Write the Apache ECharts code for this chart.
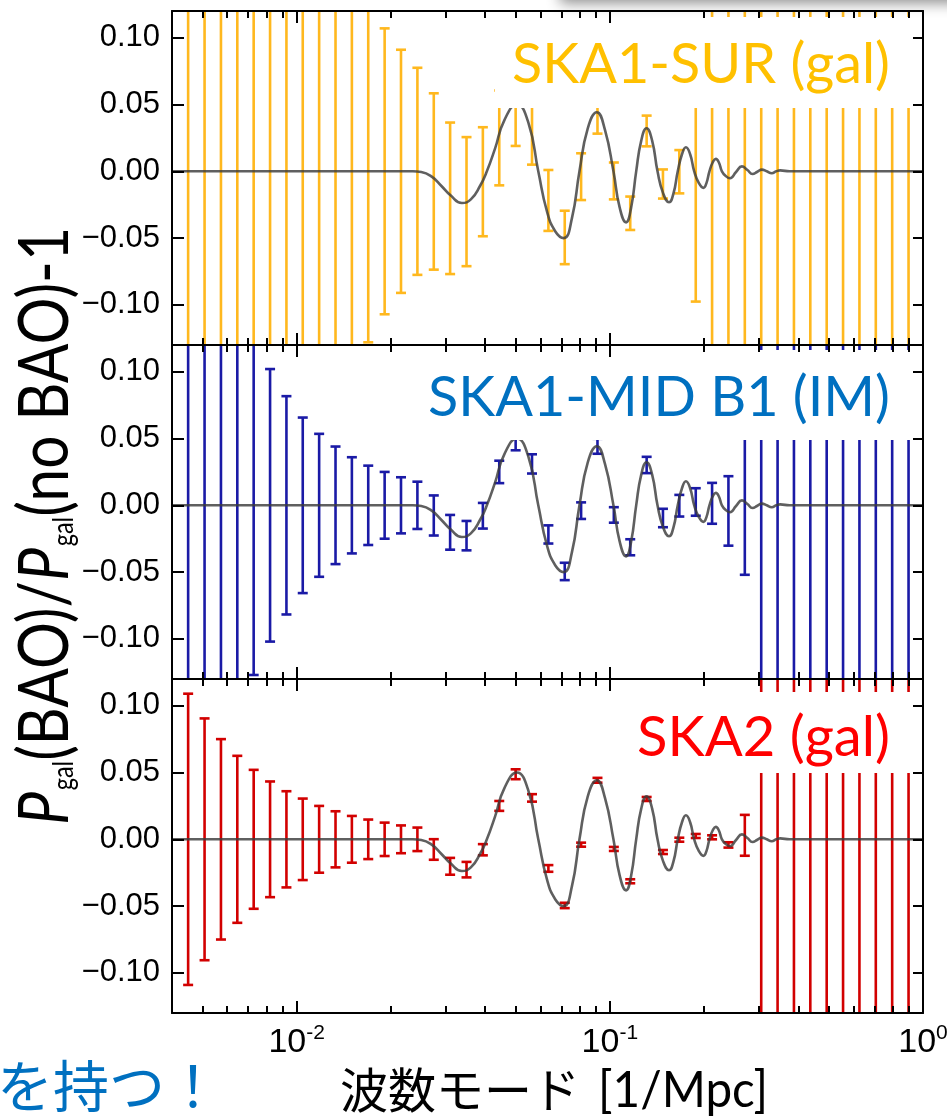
<!DOCTYPE html>
<html><head><meta charset="utf-8">
<script src="https://cdn.jsdelivr.net/npm/echarts@6/dist/echarts.min.js"></script>
<style>html,body{margin:0;padding:0;background:#fff}#c{width:947px;height:1117px}</style>
</head><body><div id="c"></div><script>
// ---------------- data ----------------
const kBins = [0.004504,0.005082,0.005733,0.006465,0.007292,0.008226,0.009278,0.01046,0.01180,0.01331,
  0.01501,0.01693,0.01910,0.02154,0.02430,0.02741,0.03091,0.03487,0.03932,0.04436,
  0.05004,0.05644,0.06366,0.07179,0.08097,0.09133,0.1030,0.1162,0.1311,0.1478,
  0.1667,0.1881,0.2121,0.2392,0.2698,0.3044,0.3433,0.3872,0.4367,0.4926,
  0.5556,0.6267,0.7068,0.7972,0.8992];
const binCenter = [0,0,0,0,0,0,0,0,0,0, 0,0,0,0,0,-0.0076,-0.0202,-0.0227,-0.0078,0.025,
  0.0487,0.031,-0.0218,-0.0495,-0.004,0.0442,-0.0072,-0.0314,0.0302,-0.0095,
  -0.0003,0.0025,0.0015,-0.0042,0.003,0,0,0,0,0, 0,0,0,0,0];
const sigmaSUR = [0.5,0.5,0.5,0.5,0.5,0.5,0.5,0.5,0.5,0.5, 0.5,0.128,0.107,0.091,0.0775,0.066,0.0567,0.0483,0.0408,0.0355,
  0.0297,0.026,0.0228,0.020,0.0175,0.016,0.0138,0.0125,0.0115,0.0109,
  0.0162,0.10,0.5,0.5,0.5,0.5,0.5,0.5,0.5,0.5, 0.5,0.5,0.5,0.5,0.5];
const sigmaMID = [0.5,0.5,0.5,0.5,0.127,0.102,0.0817,0.0657,0.0535,0.044, 0.036,0.0297,0.025,0.021,0.0177,0.015,0.013,0.011,0.0096,0.0084,
  0.0075,0.0072,0.0068,0.0065,0.0062,0.0056,0.0058,0.006,0.0061,0.0069,
  0.0081,0.0103,0.0153,0.026,0.055,0.5,0.5,0.5,0.5,0.5, 0.5,0.5,0.5,0.5,0.5];
const sigmaSKA2 = [0.109,0.0905,0.075,0.0625,0.052,0.0433,0.036,0.0305,0.025,0.021, 0.0175,0.0148,0.0125,0.0104,0.0088,0.0077,0.0063,0.0058,0.0042,0.0037,
  0.0037,0.0028,0.0025,0.002,0.0015,0.0018,0.0015,0.0015,0.0015,0.0015,
  0.0015,0.0015,0.0015,0.002,0.0153,0.5,0.5,0.5,0.5,0.5, 0.5,0.5,0.5,0.5,0.5];
const curveK = [0.004,0.01,0.02,0.0235,0.025,0.027,0.029,0.031,0.0337,0.036,0.0385,0.0405,0.043,0.046,0.0505,0.055,0.0591,
  0.063,0.067,0.0713,0.0757,0.080,0.085,0.0909,0.0965,0.1027,0.1075,0.1127,0.117,0.1214,0.126,0.131,0.1365,0.142,
  0.148,0.1546,0.1597,0.1648,0.170,0.175,0.1805,0.186,0.1925,0.199,0.2035,0.208,0.213,0.218,0.223,0.228,
  0.235,0.242,0.253,0.264,0.275,0.2855,0.296,0.306,0.317,0.329,0.340,0.350,0.375,0.40,1.0];
const curveVal = [0,0,0,0,-0.0005,-0.004,-0.011,-0.018,-0.0237,-0.021,-0.011,0,0.017,0.038,0.050,0.036,0,
  -0.030,-0.045,-0.050,-0.035,0,0.032,0.0442,0.031,0,-0.027,-0.0382,-0.027,0,0.023,0.0322,0.023,0,
  -0.0165,-0.0232,-0.0165,0,0.0128,0.018,0.0128,0,-0.0088,-0.0124,-0.0088,0,0.0066,0.0093,0.0066,0,
  -0.0037,-0.0052,-0.0005,0.0037,0.001,-0.002,-0.0003,0.0013,0,-0.0014,0,0.0007,0,0,0];
const yTickValues = [-0.1,-0.05,0,0.05,0.1];
const xMajorTicks = [0.01,0.1,1];
const xMinorTicks = [0.005,0.006,0.007,0.008,0.009,0.02,0.03,0.04,0.05,0.06,0.07,0.08,0.09,0.2,0.3,0.4,0.5,0.6,0.7,0.8,0.9];
const panelLabels = ['SKA1-SUR (gal)','SKA1-MID B1 (IM)','SKA2 (gal)'];
const panelSigma = [sigmaSUR, sigmaMID, sigmaSKA2];
const xRange = [0.004, 1];
const yRange = [-0.13, 0.12];

// ---------------- layout / style ----------------
const barColors = ['#FFB81E','#1A1AA6','#D20000'];
const labelColors = ['#FFC000','#0070C0','#FF0000'];
const gridTops = [11,345,679], gridH = 334, gridL = 172, gridR = 24;
const labelBoxes = [[495,17,417,91],[420,350,492,90],[625,692,287,81]];
const labelRight = 890, labelBase = [83,416,756], labelWidth = [378,462,253];

const cv = document.createElement('canvas').getContext('2d');
function textW(s, font){ cv.font = font; return cv.measureText(s).width; }
function baseBelowMid(font){
  cv.font = font; cv.textBaseline = 'alphabetic';
  const a = cv.measureText('H').actualBoundingBoxAscent;
  cv.textBaseline = 'middle';
  const b = cv.measureText('H').actualBoundingBoxAscent;
  cv.textBaseline = 'alphabetic';
  return a - b;
}
const LAT = 'Lato, "Open Sans", "Liberation Sans", sans-serif';
const AX = { color:'#000', width:2 };
const lx = v => Math.log10(v);

const grids = [], xAxes = [], yAxes = [], series = [];
gridTops.forEach((t, g) => {
  grids.push({left:gridL, right:gridR, top:t, height:gridH, outerBoundsMode:'none', containLabel:false});
  const base = {gridIndex:g, type:'value', min:lx(xRange[0]), max:lx(xRange[1]), splitLine:{show:false}, z:100};
  xAxes.push({gridIndex:g, type:'log', logBase:10, min:xRange[0], max:xRange[1], show:false});
  ['bottom','top'].forEach(pos => {
    xAxes.push(Object.assign({}, base, {position:pos,
      axisLine:{show:true, onZero:false, lineStyle:AX},
      axisTick:{show:true, inside:true, length:12, customValues:xMajorTicks.map(lx), lineStyle:AX},
      axisLabel:{show: pos==='bottom' && g===2, customValues:xMajorTicks.map(lx), margin:10,
        formatter: v => '{b|10}{s|' + Math.round(v) + '}',
        rich:{ b:{fontSize:34, fontFamily:'"Liberation Sans Narrow","Liberation Sans",sans-serif', color:'#000', verticalAlign:'bottom'},
               s:{fontSize:21, fontFamily:'"Liberation Sans Narrow","Liberation Sans",sans-serif', color:'#000', verticalAlign:'bottom', padding:[0,0,16,0]} } }
    }));
    xAxes.push(Object.assign({}, base, {position:pos,
      axisLine:{show:false, onZero:false},
      axisTick:{show:true, inside:true, length:7, customValues:xMinorTicks.map(lx), lineStyle:AX},
      axisLabel:{show:false}
    }));
  });
  yAxes.push({gridIndex:g, type:'value', position:'left', min:yRange[0], max:yRange[1], z:100, splitLine:{show:false},
    axisLine:{show:true, onZero:false, lineStyle:AX},
    axisTick:{show:true, inside:true, length:12, customValues:yTickValues, lineStyle:AX},
    axisLabel:{customValues:yTickValues, margin:12, fontSize:31, fontFamily:'"Liberation Sans", Arial, sans-serif', color:'#000',
      formatter: v => Math.abs(v) < 1e-9 ? '0.00' : (v < 0 ? '\u2212' : '') + Math.abs(v).toFixed(2)}
  });
  yAxes.push({gridIndex:g, type:'value', position:'right', min:yRange[0], max:yRange[1], z:100, splitLine:{show:false},
    axisLine:{show:true, onZero:false, lineStyle:AX},
    axisTick:{show:true, inside:true, length:10, customValues:yTickValues, lineStyle:AX},
    axisLabel:{show:false}
  });
  const sig = panelSigma[g];
  const col = barColors[g];
  series.push({type:'custom', xAxisIndex:g*5, yAxisIndex:g*2, clip:true, z:2,
    data: kBins.map((k,i) => [k, binCenter[i]-sig[i], binCenter[i]+sig[i]]),
    encode:{x:0, y:[1,2]},
    renderItem:(params, api) => {
      const x = api.value(0);
      const pLo = api.coord([x, api.value(1)]), pHi = api.coord([x, api.value(2)]);
      const hw = 5;
      const st = {stroke:col, lineWidth:2.6, fill:null};
      return {type:'group', children:[
        {type:'line', shape:{x1:pLo[0], y1:pLo[1], x2:pHi[0], y2:pHi[1]}, style:st},
        {type:'line', shape:{x1:pLo[0]-hw, y1:pLo[1], x2:pLo[0]+hw, y2:pLo[1]}, style:st},
        {type:'line', shape:{x1:pHi[0]-hw, y1:pHi[1], x2:pHi[0]+hw, y2:pHi[1]}, style:st}
      ]};
    }
  });
  series.push({type:'line', xAxisIndex:g*5, yAxisIndex:g*2, z:3, clip:true, showSymbol:false, smooth:0.5,
    data: curveK.map((k,i) => [k, curveVal[i]]),
    lineStyle:{color:'rgba(60,60,60,0.82)', width:2.6}, silent:true});
});

// ---------------- graphics (text) ----------------
const graphics = [];
graphics.push({type:'rect', shape:{x:560,y:-40,width:420,height:40}, style:{fill:'#fff', shadowBlur:14, shadowColor:'rgba(0,0,0,0.45)', shadowOffsetY:3}, z:200});
labelBoxes.forEach((b, g) => {
  graphics.push({type:'rect', shape:{x:b[0], y:b[1], width:b[2], height:b[3]}, style:{fill:'#fff'}, z:50});
  const font = '57px ' + LAT;
  const w = textW(panelLabels[g], font);
  const sx = labelWidth[g] / w;
  graphics.push({type:'text', x:labelRight, y:labelBase[g] - baseBelowMid(font), scaleX:sx, z:51,
    style:{text:panelLabels[g], font:font, fill:labelColors[g], align:'right', verticalAlign:'middle'}});
});
// y-axis title (rotated)
(function(){
  const parts = [
    {t:'P', it:true}, {t:'gal', sub:true}, {t:'(BAO)/'}, {t:'P', it:true}, {t:'gal', sub:true}, {t:'(no BAO)-1'}
  ];
  const mainSize = 70, subSize = 28;
  let cur = 0; const items = [];
  parts.forEach(p => {
    const font = (p.it ? 'italic ' : '') + (p.sub ? subSize : mainSize) + 'px ' + LAT;
    const w = textW(p.t, font);
    items.push({p, font, x:cur, w});
    cur += w + (p.it ? 2 : 0);
  });
  const s = 598 / cur;
  const kids = items.map(it => ({type:'text', x: it.x - cur/2, y: (it.p.sub ? 5 : 0) - baseBelowMid(it.font),
    style:{text:it.p.t, font:it.font, fill:'#000', align:'left', verticalAlign:'middle'}}));
  graphics.push({type:'group', x:68, y:526, rotation:Math.PI/2, scaleX:s, z:60, children:kids});
})();
// x-axis title
(function(){
  const f1 = '48px "Noto Sans CJK JP", sans-serif';
  graphics.push({type:'text', x:340, y:1090, z:60, style:{text:'波数モード', font:f1, fill:'#000', align:'left', verticalAlign:'middle'}});
  const f2 = '50px ' + LAT;
  const w = textW('[1/Mpc]', f2);
  graphics.push({type:'text', x:598, y:1107 - baseBelowMid(f2), scaleX:170 / w, z:60,
    style:{text:'[1/Mpc]', font:f2, fill:'#000', align:'left', verticalAlign:'middle'}});
  graphics.push({type:'text', x:-3, y:1086, z:60,
    style:{text:'を持つ！', font:'56px "Noto Sans CJK JP", sans-serif', fill:'#0070C0', align:'left', verticalAlign:'middle'}});
})();

const chart = echarts.init(document.getElementById('c'), null, {renderer:'canvas'});
chart.setOption({
  animation:false, backgroundColor:'#fff',
  grid:grids, xAxis:xAxes, yAxis:yAxes, series:series, graphic:{elements:graphics}
});
</script></body></html>
